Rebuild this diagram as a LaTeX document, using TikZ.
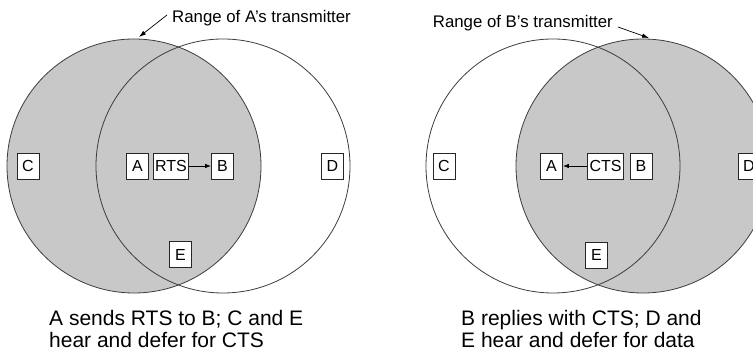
\documentclass[tikz,border=0pt]{standalone}
\usepackage{fontspec}
\setmainfont{Liberation Sans}
\usetikzlibrary{arrows.meta}
\definecolor{rangefill}{RGB}{200,200,200}
\definecolor{edge}{RGB}{60,60,60}
\begin{document}
\begin{tikzpicture}[x=1pt,y=-1pt,
  station/.style={draw=black!85, fill=white, line width=0.8pt, minimum width=22pt, minimum height=26pt, inner sep=2pt, font=\fontsize{16}{19}\selectfont},
  rangeline/.style={draw=edge, line width=0.8pt},
  msg/.style={-{Latex[length=6pt,width=4.5pt]}, line width=0.8pt},
  pointer/.style={-{Latex[length=7pt,width=4.5pt]}, line width=0.7pt},
  note/.style={font=\fontsize{16.8}{19}\selectfont, inner sep=0pt},
  caption/.style={font=\fontsize{21}{22}\selectfont, align=left, anchor=north west, inner sep=0pt}]
\useasboundingbox (0,0) rectangle (753,352);
\clip (0,0) rectangle (753,352);
% ---------- left panel ----------
\fill[rangefill] (134,166) circle (127pt);
\draw[rangeline] (134,166) circle (127pt);
\draw[rangeline] (223,166) circle (127pt);
\node[note, anchor=west] (lnote) at (172,18) {Range of A's transmitter};
\coordinate (lTail) at (167,15);
\coordinate (lTip) at (139,37);
\draw[pointer] (lTail) -- (lTip);
\node[station] (lC) at (28,166) {C};
\node[station] (lA) at (137.5,166) {A};
\node[station] (lRTS) at (171,166) {RTS};
\node[station] (lB) at (222.5,166) {B};
\node[station] (lD) at (332.5,166) {D};
\node[station] (lE) at (180.5,254.5) {E};
\draw[msg] (lRTS) -- (lB);
\node[caption] (lcap) at (49,310) {A sends RTS to B; C and E\\hear and defer for CTS};
% ---------- right panel ----------
\fill[rangefill] (643,166) circle (127pt);
\draw[rangeline] (643,166) circle (127pt);
\draw[rangeline] (553,166) circle (127pt);
\node[note, anchor=east] (rnote) at (613,23) {Range of B's transmitter};
\coordinate (rTail) at (618,27);
\coordinate (rTip) at (649,38);
\draw[pointer] (rTail) -- (rTip);
\node[station] (rC) at (444,166) {C};
\node[station] (rA) at (551.5,166) {A};
\node[station] (rCTS) at (605.5,166) {CTS};
\node[station] (rB) at (641,166) {B};
\node[station] (rD) at (749,166) {D};
\node[station] (rE) at (596.5,255) {E};
\draw[msg] (rCTS) -- (rA);
\node[caption] (rcap) at (461,310) {B replies with CTS; D and\\E hear and defer for data};
\end{tikzpicture}
\end{document}
